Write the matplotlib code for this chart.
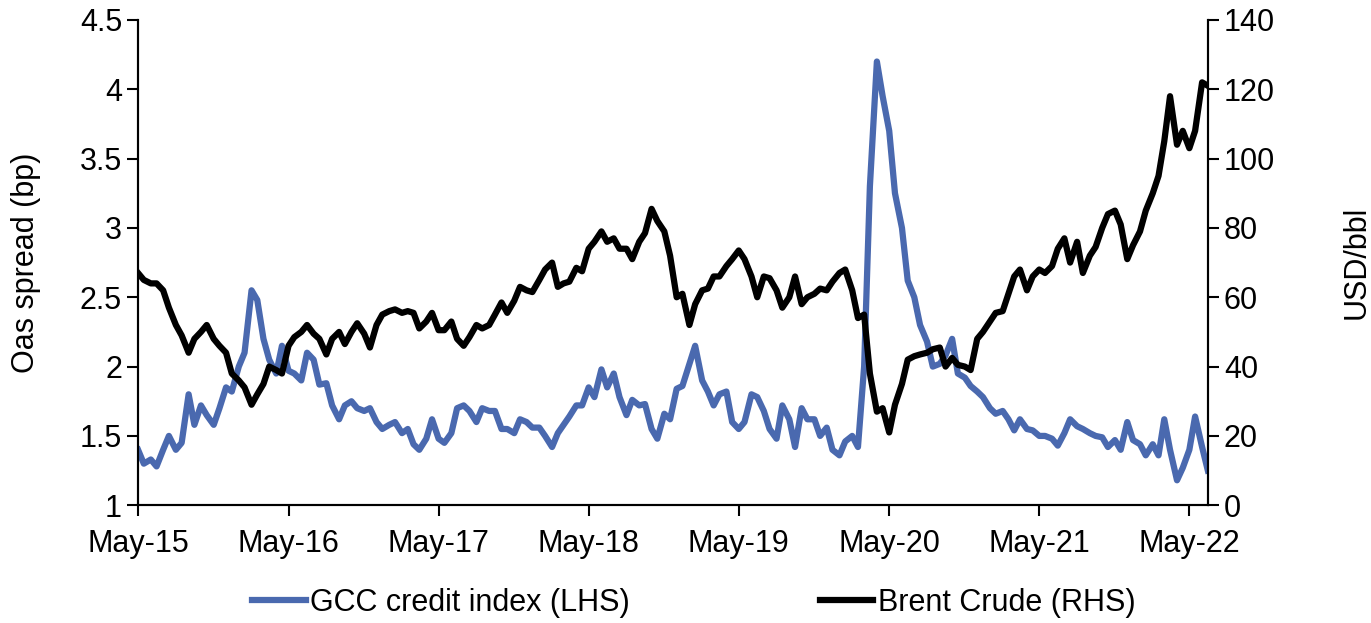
import matplotlib
matplotlib.use("Agg")
import matplotlib.pyplot as plt
import matplotlib.dates as mdates
from matplotlib.ticker import FuncFormatter
import pandas as pd

plt.rcParams['font.family'] = ['Liberation Sans', 'DejaVu Sans']

# semi-monthly observations, May 2015 - Jun 2022
dates = pd.date_range('2015-05-01', periods=172, freq='SMS')

gcc_oas = [
    1.40, 1.30, 1.33, 1.28, 1.40, 1.50, 1.40, 1.45, 1.80, 1.58, 1.72, 1.65, 1.58, 1.70, 1.85, 1.82,
    2.00, 2.10, 2.55, 2.48, 2.20, 2.05, 1.95, 2.15, 1.97,
    1.95, 1.90, 2.10, 2.05, 1.87, 1.88, 1.72, 1.62, 1.72, 1.75, 1.70, 1.68, 1.70, 1.60, 1.55, 1.58,
    1.60, 1.52, 1.55, 1.44, 1.40, 1.48, 1.62, 1.48,
    1.45, 1.52, 1.70, 1.72, 1.68, 1.60, 1.70, 1.68, 1.68, 1.55, 1.55, 1.52, 1.62, 1.60, 1.56, 1.56,
    1.50, 1.42, 1.52, 1.58, 1.64, 1.72, 1.72, 1.85,
    1.78, 1.98, 1.85, 1.95, 1.78, 1.65, 1.76, 1.72, 1.73, 1.55, 1.48, 1.66, 1.62, 1.84, 1.86, 2.02,
    2.15, 1.90, 1.82, 1.72, 1.80, 1.82, 1.60, 1.55,
    1.60, 1.80, 1.78, 1.68, 1.55, 1.48, 1.72, 1.62, 1.42, 1.70, 1.62, 1.62, 1.50, 1.56, 1.40, 1.36,
    1.46, 1.50, 1.42, 2.00, 3.30, 4.20, 3.95, 3.70,
    3.25, 3.00, 2.62, 2.50, 2.30, 2.18, 2.00, 2.02, 2.08, 2.20, 1.95, 1.92, 1.86, 1.82, 1.78, 1.70,
    1.66, 1.68, 1.62, 1.54, 1.62, 1.55, 1.54, 1.50,
    1.50, 1.48, 1.43, 1.52, 1.62, 1.57, 1.55, 1.52, 1.50, 1.49, 1.42, 1.47, 1.40, 1.60, 1.47, 1.44,
    1.36, 1.44, 1.36, 1.62, 1.40, 1.18, 1.27, 1.40, 1.64, 1.42, 1.25,
]

brent = [
    67, 65, 64, 64, 62, 57, 52, 49, 44, 48, 50, 52, 48, 46, 44, 38,
    36, 34, 29, 32, 35, 40, 39, 38, 46,
    48.5, 50, 52, 49.5, 48, 43.5, 48, 50, 46.5, 50, 52.5, 49.5, 45.5, 52, 55, 56,
    56.5, 55.5, 56, 55.5, 51, 53, 55.5, 50.5,
    50.5, 53, 48, 46, 48.5, 52, 51, 52, 55, 58.5, 55.5, 59, 63, 62, 61.5, 65,
    68, 70, 63, 64, 64.5, 68.5, 67.5, 74,
    76, 79, 76, 77, 74, 74, 71, 76, 78.5, 85.5, 82, 79, 72, 60, 61, 52,
    58, 62, 62.5, 66, 66, 69, 71, 73.5,
    71, 66, 60, 66, 65.5, 62, 57, 60, 66, 58, 60, 61, 62.5, 62, 64.5, 67,
    68, 62, 54, 55, 38, 27, 28, 21,
    29, 35, 42, 43, 43.5, 44, 45, 45.5, 40, 42.5, 40.5, 40, 39, 48, 50, 53,
    55.5, 56, 61, 66, 68, 62, 66, 68,
    67, 69, 74, 77, 70, 76, 67, 72, 74.5, 80, 84, 85, 81, 71, 75, 79,
    85, 90, 95, 105, 118, 104, 108, 103, 108, 122, 121,
]

fig = plt.figure(figsize=(13.71, 6.23), dpi=100)
ax = fig.add_axes([0.1007, 0.189, 0.7803, 0.779])
ax2 = ax.twinx()

l1, = ax.plot(dates, gcc_oas, color='#4A69AF', lw=4.5, label='GCC credit index (LHS)')
l2, = ax2.plot(dates, brent, color='black', lw=4.5, label='Brent Crude (RHS)')

ax.set_ylim(1, 4.5)
ax.set_yticks([1, 1.5, 2, 2.5, 3, 3.5, 4, 4.5])
ax.yaxis.set_major_formatter(FuncFormatter(lambda v, p: f'{v:g}'))
ax2.set_ylim(0, 140)
ax2.set_yticks(range(0, 141, 20))

ax.set_xlim(dates[0], dates[-1])
ax.xaxis.set_major_locator(mdates.MonthLocator(bymonth=5))
ax.xaxis.set_major_formatter(mdates.DateFormatter('%b-%y'))

for a in (ax, ax2):
    a.spines['top'].set_visible(False)
    for s in a.spines.values():
        s.set_linewidth(1.5)
    a.tick_params(axis='both', labelsize=22, width=1.5, length=8, direction='out')
ax.tick_params(axis='x', pad=9)

ax.set_ylabel('Oas spread (bp)', fontsize=22, labelpad=28)
ax2.set_ylabel('USD/bbl', fontsize=22, labelpad=48)

fig.legend(handles=[l1, l2], loc='center', bbox_to_anchor=(0.506, 0.032), ncol=2,
           frameon=False, fontsize=22, handlelength=1.75, handletextpad=0.15,
           columnspacing=6.2)

fig.savefig('out.png', dpi=100)
